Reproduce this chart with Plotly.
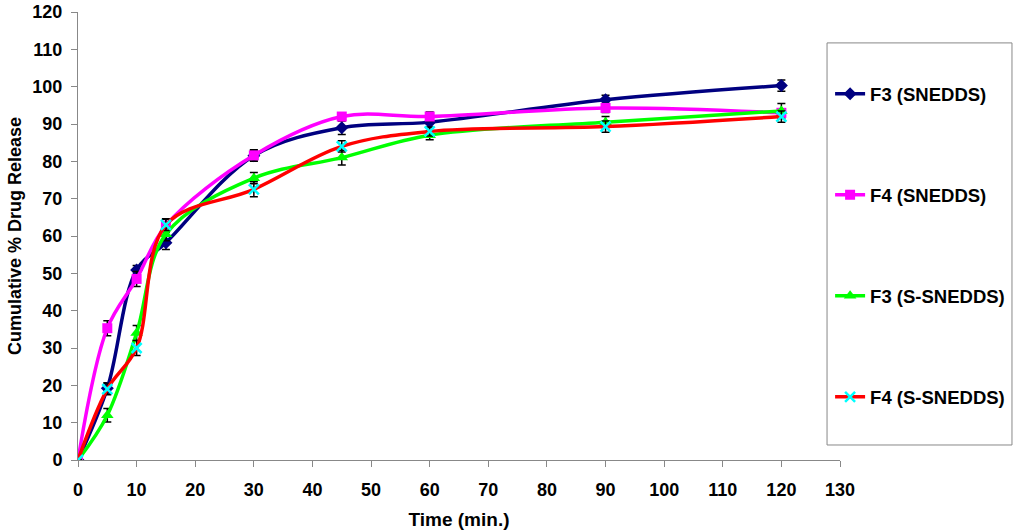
import plotly.graph_objects as go

time = [0, 5, 10, 15, 30, 45, 60, 90, 120]
names = ["F3 (SNEDDS)", "F4 (SNEDDS)", "F3 (S-SNEDDS)", "F4 (S-SNEDDS)"]
f3_snedds = [0, 19.2, 50.9, 58.2, 81.5, 89.0, 90.5, 96.5, 100.3]
f4_snedds = [0, 35.3, 48.5, 62.8, 81.6, 92.0, 92.0, 94.3, 93.0]
f3_ssnedds = [0, 12.0, 34.0, 60.5, 75.5, 81.0, 87.0, 90.5, 93.5]
f4_ssnedds = [0, 19.0, 30.0, 63.0, 72.5, 84.0, 88.0, 89.3, 92.0]
err_f3_snedds = [0, 1.5, 1.2, 1.8, 1.5, 1.8, 1.5, 1.2, 1.5]
err_f4_snedds = [0, 2.0, 2.0, 1.8, 1.5, 1.0, 1.2, 1.2, 1.0]
err_f3_ssnedds = [0, 1.8, 2.0, 1.8, 1.5, 2.0, 1.2, 1.5, 2.0]
err_f4_ssnedds = [0, 1.5, 2.0, 1.5, 2.0, 1.5, 1.2, 1.5, 1.5]

series = [
    (names[0], f3_snedds, err_f3_snedds, "#000080", dict(symbol="diamond", size=10, color="#000080")),
    (names[1], f4_snedds, err_f4_snedds, "#FF00FF", dict(symbol="square", size=10, color="#FF00FF")),
    (names[2], f3_ssnedds, err_f3_ssnedds, "#00FF00", dict(symbol="triangle-up", size=11, color="#00FF00")),
    (names[3], f4_ssnedds, err_f4_ssnedds, "#FF0000", dict(symbol="x-thin", size=10, color="#00FFFF",
                                                           line=dict(color="#00FFFF", width=2.5))),
]

fig = go.Figure()
for i, (nm, ys, er, col, mk) in enumerate(series):
    fig.add_trace(go.Scatter(
        x=time, y=ys, name=nm, mode="lines+markers",
        line=dict(color=col, width=3.5, shape="spline", smoothing=1.0),
        marker=mk, legendgroup=str(i),
        error_y=dict(type="data", array=er, visible=True, color="black", thickness=1.5, width=4),
    ))

font_family = "Liberation Sans, Arial, sans-serif"
fig.update_layout(
    width=1024, height=532,
    margin=dict(l=78, r=184, t=12, b=72, autoexpand=False),
    paper_bgcolor="white", plot_bgcolor="white",
    font=dict(family=font_family, color="black"),
    xaxis=dict(range=[0, 130], tickvals=list(range(0, 131, 10)), showgrid=False, zeroline=False,
               automargin=False,
               showline=True, linecolor="#888888", linewidth=1, ticks="outside", tickcolor="#888888",
               ticklen=6, ticklabelstandoff=7, tickfont=dict(size=18, family=font_family, weight="bold"),
               title=dict(text="<b>Time (min.)</b>", font=dict(size=19), standoff=14)),
    yaxis=dict(range=[0, 120], tickvals=list(range(0, 121, 10)), showgrid=False, zeroline=False,
               automargin=False,
               showline=True, linecolor="#888888", linewidth=1, ticks="outside", tickcolor="#888888",
               ticklen=6, ticklabelstandoff=5, tickfont=dict(size=18, family=font_family, weight="bold"),
               title=dict(text="<b>Cumulative % Drug Release</b>", font=dict(size=18), standoff=6)),
    legend=dict(x=0.987, y=0.859, xanchor="left", yanchor="top", tracegroupgap=74,
                font=dict(size=18.5, family=font_family, weight="bold"),
                bgcolor="rgba(0,0,0,0)", borderwidth=0, itemwidth=30),
    showlegend=True,
)
fig.add_shape(type="rect", xref="paper", yref="paper", x0=0.983, x1=1.2257, y0=0.0335, y1=0.931,
              line=dict(color="#888888", width=1), fillcolor="rgba(0,0,0,0)", layer="below")

fig.write_html("out.html", config={"displayModeBar": False})
with open("out.html", "r", encoding="utf-8") as fh:
    html = fh.read()
html = html.replace("<body>", '<body style="margin:0;padding:0;overflow:hidden">', 1)
with open("out.html", "w", encoding="utf-8") as fh:
    fh.write(html)
